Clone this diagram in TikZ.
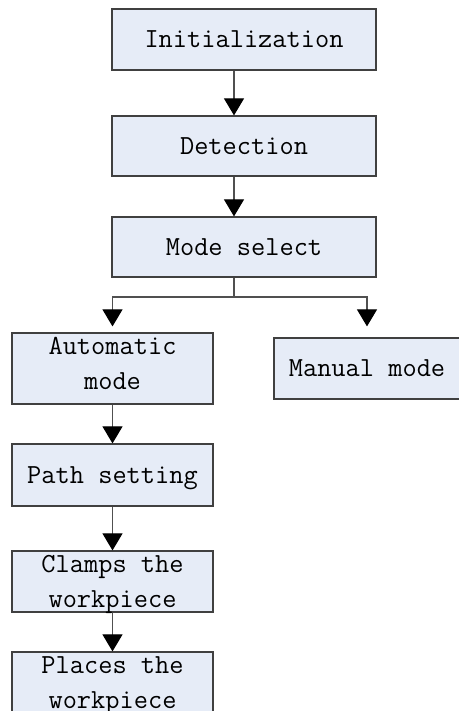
\documentclass[tikz,border=0pt]{standalone}
\usetikzlibrary{arrows.meta}
\definecolor{boxfill}{HTML}{E6ECF7}
\definecolor{boxline}{HTML}{404040}
\definecolor{flowline}{HTML}{505050}

\begin{document}
\begin{tikzpicture}[x=1pt,y=-1pt,
  box/.style={font={\ttfamily\fontsize{27.6}{35}\selectfont}, shape=rectangle, draw=boxline, line width=1.2pt, fill=boxfill, inner sep=0pt, text depth=0pt, align=center, minimum height=61pt},
  link/.style={draw=flowline, line width=1.1pt},
  flow/.style={link, -{Triangle[width=20pt,length=17pt,color=black]}}]

\useasboundingbox (0,0) rectangle (458,711);

\node [box, minimum width=264pt] (v1) at (244,39.5) {Initialization};
\node [box, minimum width=264pt, minimum height=60pt] (v2) at (244,146) {Detection};
\node [box, minimum width=264pt, minimum height=60pt] (v3) at (244,247) {Mode select};
\node [box, minimum width=201pt, minimum height=71pt, text depth=10pt] (v4) at (112.5,368.5) {Automatic\\mode};
\node [box, minimum width=186pt] (v5) at (367,368.5) {Manual mode};
\node [box, minimum width=201pt, minimum height=62pt] (v6) at (112.5,475) {Path setting};
\node [box, minimum width=201pt] (v7) at (112.5,581.5) {Clamps the\\workpiece};
\node [box, minimum width=201pt] (v8) at (112.5,682.5) {Places the\\workpiece};
\coordinate (split) at (234,297);

\draw [flow] (v1.south -| split) -- (v2.north -| split);
\draw [flow] (v2.south -| split) -- (v3.north -| split);
\draw [link] (v3.south -| split) -- (split);
\draw [flow, shorten >=6pt] (split) -| (v4.north);
\draw [flow, shorten >=11pt] (split) -| (v5.north);
\draw [flow] (v4) edge (v6);
\draw [flow] (v6) edge (v7);
\draw [flow] (v7) edge (v8);
\end{tikzpicture}
\end{document}
